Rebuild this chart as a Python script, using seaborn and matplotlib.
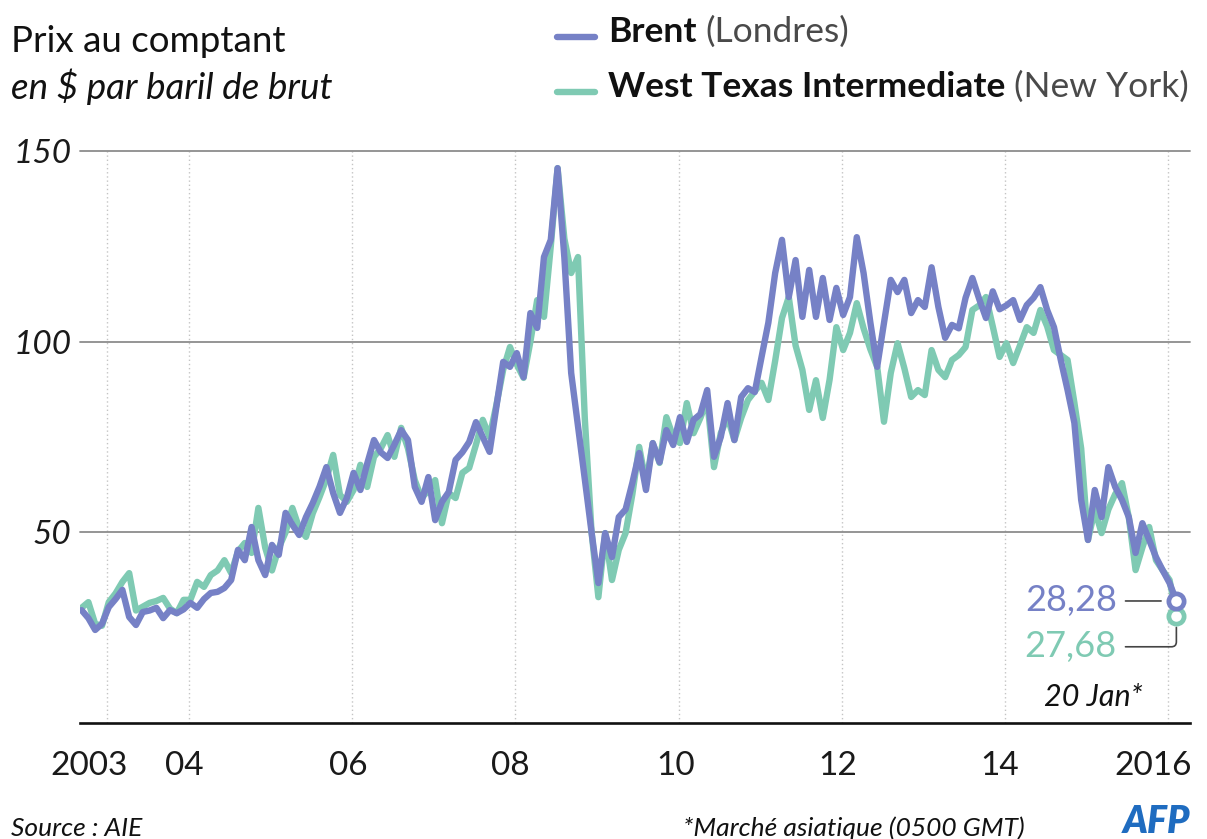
import matplotlib
matplotlib.use("Agg")
import matplotlib.pyplot as plt
from matplotlib.lines import Line2D
import seaborn as sns
import numpy as np
import pandas as pd

# monthly spot prices, Sep 2002 -> Jan 2016
brent = [29.6, 27.5, 24.4, 26.0, 30.4, 32.5, 34.9, 27.8, 25.7, 29.1, 29.5, 30.2,
         27.5, 29.6, 28.8, 29.8, 31.5, 30.2, 32.5, 34.1, 34.4, 35.4, 37.5, 45.4,
         42.7, 51.4, 42.7, 38.8, 46.7, 44.1, 55.1, 52.0, 49.3, 54.0, 57.7, 62.0,
         67.1, 60.3, 55.1, 59.0, 65.6, 61.1, 68.0, 74.2, 71.0, 69.5, 73.0, 76.8,
         74.2, 61.9, 58.0, 64.5, 53.2, 58.0, 60.6, 69.0, 71.0, 73.7, 78.9, 75.0,
         71.1, 82.9, 94.7, 93.4, 97.0, 90.7, 107.5, 103.6, 122.2, 126.7, 145.5, 122.0,
         91.8, 78.0, 64.0, 50.0, 36.7, 49.8, 43.5, 54.0, 56.0, 63.0, 70.8, 61.1,
         73.4, 68.4, 76.8, 72.9, 80.2, 73.7, 79.5, 81.0, 87.3, 69.8, 75.0, 83.9,
         74.2, 85.5, 87.8, 86.8, 96.0, 105.0, 118.0, 126.7, 111.7, 121.4, 106.5, 118.8,
         106.5, 116.7, 105.7, 114.1, 107.0, 111.7, 127.4, 118.0, 105.0, 93.4, 104.9, 116.2,
         113.0, 116.2, 107.5, 110.9, 109.1, 119.5, 109.1, 101.0, 104.4, 103.5, 111.5, 116.7,
         111.2, 106.2, 113.2, 108.5, 109.5, 110.9, 105.7, 109.6, 111.5, 114.3, 108.3, 103.8,
         95.2, 87.3, 78.7, 58.5, 48.0, 61.1, 54.0, 67.1, 61.9, 58.5, 54.0, 44.6,
         52.4, 48.0, 43.5, 40.0, 36.7, 32.0]
wti = [30.2, 31.7, 26.0, 25.5, 31.7, 34.0, 37.0, 39.3, 29.5, 30.5, 31.5, 32.0,
       32.8, 30.0, 28.8, 32.3, 32.3, 37.0, 35.7, 38.8, 40.0, 42.7, 39.3, 45.0,
       47.2, 44.6, 56.4, 46.0, 40.0, 45.9, 50.0, 56.4, 51.1, 48.8, 55.0, 59.3,
       64.0, 70.3, 59.8, 58.0, 61.1, 67.7, 61.9, 69.8, 72.0, 75.5, 69.8, 77.4,
       72.0, 63.7, 59.0, 61.0, 63.7, 52.4, 60.3, 59.0, 65.6, 66.9, 73.0, 79.5,
       75.0, 83.4, 92.6, 98.6, 94.0, 90.5, 100.0, 110.9, 106.5, 125.0, 145.5, 127.0,
       118.0, 122.2, 80.0, 50.0, 33.0, 49.8, 37.5, 45.4, 49.8, 60.0, 72.4, 62.9,
       73.4, 68.2, 80.2, 75.0, 73.4, 83.9, 76.0, 80.0, 84.7, 67.1, 76.0, 80.2,
       74.2, 80.0, 84.7, 87.0, 89.2, 84.7, 95.0, 106.2, 111.7, 99.0, 92.6, 82.1,
       89.9, 80.0, 90.0, 103.8, 97.8, 102.3, 110.1, 103.5, 98.0, 93.4, 79.0, 91.8,
       99.6, 93.0, 85.5, 87.3, 86.0, 97.8, 92.6, 90.7, 95.2, 96.5, 98.6, 108.3,
       109.5, 111.7, 104.0, 96.0, 99.6, 94.4, 99.0, 103.8, 102.3, 108.3, 104.0, 97.8,
       96.5, 95.2, 84.0, 72.0, 48.0, 55.9, 49.8, 56.0, 60.0, 62.9, 54.0, 40.1,
       46.0, 51.4, 42.7, 40.0, 37.5, 28.0]

y_ticks = [50, 100, 150]
year_lines = [2003, 2004, 2006, 2008, 2010, 2012, 2014, 2016]
year_labels = ["2003", "04", "06", "08", "10", "12", "14", "2016"]
brent_last = "28,28"
wti_last = "27,68"

BRENT_C = "#7681c6"
WTI_C = "#7fcab3"

n = len(brent)
months = pd.date_range("2002-09-01", periods=n, freq="MS")
t = np.asarray(months.year + (months.month - 1 + 0.2) / 12, dtype=float)
df = pd.DataFrame({"t": np.concatenate([t, t]),
                   "prix": brent + wti,
                   "serie": ["Brent"] * n + ["WTI"] * n})

sns.set_style("white")
plt.rcParams["font.family"] = ["Lato", "DejaVu Sans"]

W, H = 1207, 839
fig = plt.figure(figsize=(W / 100, H / 100), dpi=100)
ax = fig.add_axes([80 / W, 1 - 723 / H, 1110 / W, 572 / H])

sns.lineplot(data=df, x="t", y="prix", hue="serie", hue_order=["WTI", "Brent"],
             palette={"Brent": BRENT_C, "WTI": WTI_C}, lw=4.6, legend=False,
             ax=ax, zorder=3, solid_joinstyle="round", solid_capstyle="round")

ax.set_xlim(2002.664, 2016.267)
ax.set_ylim(0, 150)

for v in y_ticks:
    ax.axhline(v, color="#8c8c8c", lw=1.3, zorder=1, clip_on=False)
for yr in year_lines:
    ax.axvline(yr, color="#c4c4c4", lw=1.0, ls=(0, (1, 2)), zorder=0)

# tick labels sit a bit left of their year lines
label_pos = [2002.77, 2003.94, 2005.95, 2007.94, 2009.96, 2011.95, 2013.93, 2015.82]
ax.set_xticks(label_pos)
ax.set_xticklabels(year_labels, fontsize=24)
ax.set_yticks(y_ticks)
ax.set_yticklabels([str(v) for v in y_ticks], fontsize=24, style="italic")
ax.tick_params(axis="x", length=0, pad=20, colors="#1a1a1a")
ax.tick_params(axis="y", length=0, pad=6, colors="#1a1a1a")
ax.set_xlabel("")
ax.set_ylabel("")
for s in ["left", "top", "right"]:
    ax.spines[s].set_visible(False)
ax.spines["bottom"].set_color("#111111")
ax.spines["bottom"].set_linewidth(1.9)

# end markers and value labels
ax.plot(t[-1], brent[-1], marker="o", ms=11, mfc="white", mec=BRENT_C, mew=3.4,
        zorder=6, clip_on=False)
ax.plot(t[-1], wti[-1], marker="o", ms=11, mfc="white", mec=WTI_C, mew=3.4,
        zorder=5, clip_on=False)
ax.annotate(brent_last, xy=(t[-1], brent[-1]), xytext=(-43, 0),
            textcoords="offset points", ha="right", va="center", fontsize=26,
            color=BRENT_C,
            arrowprops=dict(arrowstyle="-", color="#444444", lw=1.2,
                            shrinkA=4, shrinkB=11))
ax.annotate(wti_last, xy=(t[-1], wti[-1]), xytext=(-43, -22),
            textcoords="offset points", ha="right", va="center", fontsize=26,
            color=WTI_C,
            arrowprops=dict(arrowstyle="-", color="#444444", lw=1.2,
                            shrinkA=4, shrinkB=8,
                            connectionstyle="angle,angleA=0,angleB=90,rad=5"))
ax.annotate("20 Jan*", xy=(t[-1], wti[-1]), xytext=(-60, -58),
            textcoords="offset points", ha="center", va="center", fontsize=22,
            style="italic", color="#111111")

# header
fig.text(11 / W, 1 - 42 / H, "Prix au comptant", fontsize=26.5, va="center", color="#111111")
fig.text(11 / W, 1 - 87 / H, "en $ par baril de brut", fontsize=26.5, va="center",
         style="italic", color="#111111")

renderer = fig.canvas.get_renderer()
legend_rows = [("Brent", "(Londres)", BRENT_C, 32), ("West Texas Intermediate", "(New York)", WTI_C, 87)]
for bold, light, col, yc in legend_rows:
    fig.add_artist(Line2D([557 / W, 595 / W], [1 - (yc + 5) / H] * 2, color=col, lw=4.6,
                          solid_capstyle="round"))
    tb = fig.text(608 / W, 1 - yc / H, bold, fontsize=25.5, weight="bold", va="center",
                  color="#111111")
    x1 = tb.get_window_extent(renderer).x1
    fig.text((x1 + 9) / W, 1 - yc / H, light, fontsize=25.5, va="center", color="#4a4a4a")

# footer
fig.text(11 / W, 1 - 828 / H, "Source : AIE", fontsize=19, va="center", style="italic",
         color="#111111")
fig.text(683 / W, 1 - 828 / H, "*Marché asiatique (0500 GMT)", fontsize=19, va="center",
         style="italic", color="#111111")
fig.text(1190 / W, 1 - 822 / H, "AFP", fontsize=27, ha="right", va="center",
         weight="heavy", style="italic", color="#1f6cc0")

fig.savefig("out.png", dpi=100)
